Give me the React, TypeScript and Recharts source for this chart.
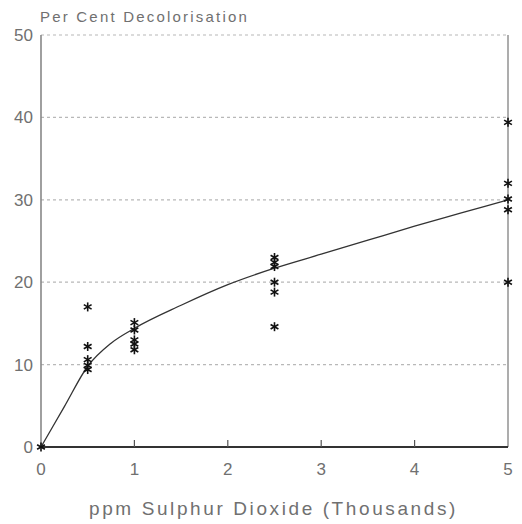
import React from "react";
import {
  ComposedChart,
  Line,
  Scatter,
  XAxis,
  YAxis,
  CartesianGrid,
  ReferenceLine,
} from "recharts";

// Fitted curve
const curveX = [0, 0.25, 0.5, 0.75, 1, 1.5, 2, 2.5, 3, 3.5, 4, 4.5, 5];
const curveY = [0, 4.9, 9.8, 12.6, 14.4, 17.2, 19.7, 21.7, 23.4, 25.1, 26.8, 28.4, 30.0];

// Observations (asterisks)
const obsX = [0, 0.5, 0.5, 0.5, 0.5, 0.5, 1, 1, 1, 1, 1, 2.5, 2.5, 2.5, 2.5, 2.5, 2.5, 5, 5, 5, 5, 5];
const obsY = [0, 17, 12.2, 10.6, 9.9, 9.4, 15.1, 14.2, 13.0, 12.5, 11.8, 23.0, 22.4, 21.9, 20.0, 18.8, 14.6, 39.4, 32.0, 30.1, 28.8, 20.0];

const xTicks = [0, 1, 2, 3, 4, 5];
const yTicks = [0, 10, 20, 30, 40, 50];

const titleText = "Per Cent Decolorisation";
const xLabelText = "ppm Sulphur Dioxide (Thousands)";

const curveData = curveX.map((x, i) => ({ x, y: curveY[i] }));
const obsData = obsX.map((x, i) => ({ x, y: obsY[i] }));

const FONT = "'Liberation Sans', Arial, sans-serif";
const TEXT = "#707070";

const Asterisk = (props: any) => {
  const { cx, cy } = props;
  if (cx == null || cy == null) return null;
  const r = 4.5;
  const dx = r * Math.cos(Math.PI / 6);
  const dy = r * Math.sin(Math.PI / 6);
  return (
    <g stroke="#111" strokeWidth={1.6}>
      <line x1={cx} y1={cy - r} x2={cx} y2={cy + r} />
      <line x1={cx - dx} y1={cy - dy} x2={cx + dx} y2={cy + dy} />
      <line x1={cx - dx} y1={cy + dy} x2={cx + dx} y2={cy - dy} />
    </g>
  );
};

const XTick = (props: any) => {
  const { x, y, payload } = props;
  const v = payload.value;
  return (
    <g>
      {v > 0 && v < 5 ? (
        <line x1={x} y1={y} x2={x} y2={y - 7} stroke="#555" strokeWidth={1.2} />
      ) : null}
      <text x={x} y={y + 28} textAnchor="middle" fill={TEXT} fontSize={17} fontFamily={FONT}>
        {v}
      </text>
    </g>
  );
};

const YTick = (props: any) => {
  const { x, y, payload } = props;
  return (
    <text x={x} y={y + 6} textAnchor="end" fill={TEXT} fontSize={17} fontFamily={FONT}>
      {payload.value}
    </text>
  );
};

export default function App() {
  return (
    <div style={{ position: "absolute", left: 0, top: 0, background: "#fff" }}>
      <ComposedChart
        width={522}
        height={524}
        margin={{ top: 35, right: 14, bottom: 0, left: 0 }}
      >
        <CartesianGrid
          vertical={false}
          stroke="#b8b8b8"
          strokeDasharray="3 3"
          strokeWidth={1.2}
        />
        <XAxis
          dataKey="x"
          type="number"
          domain={[0, 5]}
          ticks={xTicks}
          height={77}
          tickSize={0}
          tickMargin={0}
          tickLine={false}
          axisLine={{ stroke: "#333", strokeWidth: 2 }}
          tick={<XTick />}
          label={{
            content: (p: any) => {
              const vb = p.viewBox;
              return (
                <text
                  x={vb.x + vb.width / 2 - 1}
                  y={vb.y + 68}
                  textAnchor="middle"
                  fill={TEXT}
                  fontSize={19}
                  letterSpacing={2.6}
                  fontFamily={FONT}
                >
                  {xLabelText}
                </text>
              );
            },
          }}
        />
        <YAxis
          dataKey="y"
          type="number"
          domain={[0, 50]}
          ticks={yTicks}
          width={41}
          tickSize={0}
          tickMargin={8}
          tickLine={false}
          axisLine={{ stroke: "#888", strokeWidth: 1.6 }}
          tick={<YTick />}
          label={{
            content: (p: any) => {
              const vb = p.viewBox;
              return (
                <text
                  x={vb.x + vb.width - 1}
                  y={vb.y - 13}
                  textAnchor="start"
                  fill={TEXT}
                  fontSize={15}
                  letterSpacing={2.2}
                  fontFamily={FONT}
                >
                  {titleText}
                </text>
              );
            },
          }}
        />
        <ReferenceLine x={5} stroke="#999" strokeWidth={1.6} ifOverflow="visible" />
        <Line
          data={curveData}
          dataKey="y"
          type="monotone"
          stroke="#333"
          strokeWidth={1.3}
          dot={false}
          activeDot={false}
          isAnimationActive={false}
        />
        <Scatter
          data={obsData}
          dataKey="y"
          shape={<Asterisk />}
          isAnimationActive={false}
        />
      </ComposedChart>
    </div>
  );
}
